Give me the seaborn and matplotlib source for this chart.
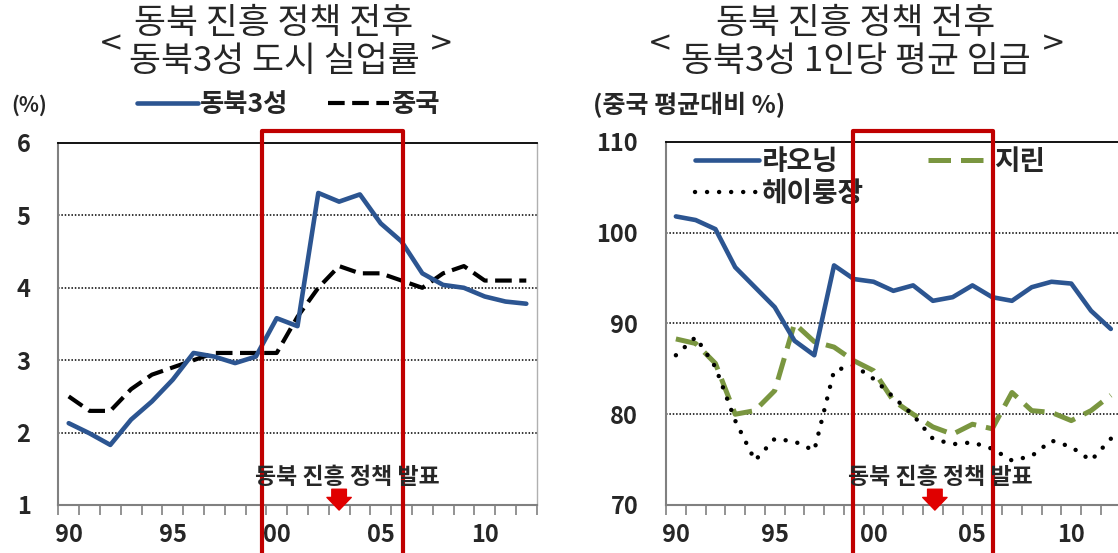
import matplotlib
matplotlib.use('Agg')
import matplotlib.pyplot as plt
import matplotlib.transforms as mtransforms
from matplotlib.patches import Rectangle
import seaborn as sns
import pandas as pd

sns.set_style('white', {'xtick.bottom': True, 'ytick.left': False})
plt.rcParams['font.family'] = ['Noto Sans CJK KR', 'DejaVu Sans']
plt.rcParams['axes.unicode_minus'] = False

# 데이터
years = list(range(1990, 2013))
tick_years = [1990, 1995, 2000, 2005, 2010]
tick_labels = ['90', '95', '00', '05', '10']

# 도시 실업률 (%)
unemp_ne3 = [2.13, 1.99, 1.83, 2.18, 2.43, 2.73, 3.10, 3.05, 2.96, 3.05, 3.58, 3.47,
             5.31, 5.19, 5.29, 4.89, 4.64, 4.20, 4.04, 4.00, 3.88, 3.81, 3.78]
unemp_china = [2.5, 2.3, 2.3, 2.6, 2.8, 2.9, 3.0, 3.1, 3.1, 3.1, 3.1, 3.6,
               4.0, 4.3, 4.2, 4.2, 4.1, 4.0, 4.2, 4.3, 4.1, 4.1, 4.1]

# 1인당 평균 임금 (중국 평균대비 %)
wage_liaoning = [101.8, 101.4, 100.4, 96.2, 94.0, 91.8, 88.1, 86.5, 96.4, 94.9, 94.6, 93.6,
                 94.2, 92.5, 92.9, 94.2, 92.9, 92.5, 94.0, 94.6, 94.4, 91.4, 89.4]
wage_jilin = [88.3, 87.8, 85.6, 80.0, 80.4, 82.6, 90.0, 88.0, 87.4, 85.9, 84.8, 81.5,
              80.0, 78.6, 77.8, 78.9, 78.4, 82.4, 80.4, 80.2, 79.3, 80.4, 82.1]
wage_heilongjiang = [86.5, 88.5, 85.2, 79.3, 74.9, 77.3, 77.0, 76.0, 84.8, 85.4, 83.9, 81.9,
                     79.9, 77.3, 76.7, 76.9, 76.2, 74.9, 75.4, 77.1, 76.4, 74.9, 77.3]

df1 = pd.DataFrame({'year': years, 'ne3': unemp_ne3, 'china': unemp_china})
df2 = pd.DataFrame({'year': years, 'ln': wage_liaoning, 'jl': wage_jilin, 'hlj': wage_heilongjiang})

BLUE = '#2C5591'
GREEN = '#7A9640'
RED = '#C00000'
ARROW_RED = '#E00000'

W, H = 1118, 553
fig = plt.figure(figsize=(W / 100, H / 100), dpi=100)

def px_ax(x0, x1, ytop, ybot):
    return fig.add_axes([x0 / W, (H - ybot) / H, (x1 - x0) / W, (ybot - ytop) / H])

ax1 = px_ax(58.3, 536.7, 143, 505)
ax2 = px_ax(666, 1120.7, 142, 505)

# 왼쪽: 실업률
sns.lineplot(data=df1, x='year', y='china', ax=ax1, color='black', lw=3,
             linestyle=(0, (4.0, 1.8)), label='중국', zorder=3)
sns.lineplot(data=df1, x='year', y='ne3', ax=ax1, color=BLUE, lw=3.3,
             solid_capstyle='round', label='동북3성', zorder=4)

# 오른쪽: 임금
sns.lineplot(data=df2, x='year', y='ln', ax=ax2, color=BLUE, lw=3.3,
             solid_capstyle='round', label='랴오닝', zorder=4)
sns.lineplot(data=df2, x='year', y='jl', ax=ax2, color=GREEN, lw=3.6,
             linestyle=(0, (4.5, 2.0)), label='지린', zorder=3)
sns.lineplot(data=df2, x='year', y='hlj', ax=ax2, color='black', lw=3.2,
             linestyle=(0, (0.01, 2.7)), dash_capstyle='round', label='헤이룽장', zorder=3)

def style_axis(ax, ylim, yticks, grid_vals, show_right):
    ax.set_xlim(1989.5, 2012.5)
    ax.set_ylim(*ylim)
    ax.set_xlabel('')
    ax.set_ylabel('')
    ax.set_yticks(yticks)
    ax.set_yticklabels([str(v) for v in yticks], fontsize=17, fontweight='bold')
    # 눈금선은 연도 경계(major), 라벨은 연도 중앙(minor)
    ax.set_xticks([y - 0.5 for y in years] + [2012.5])
    ax.set_xticklabels([])
    ax.set_xticks(tick_years, minor=True)
    ax.set_xticklabels(tick_labels, minor=True, fontsize=17, fontweight='bold')
    ax.tick_params(axis='x', which='major', bottom=True, length=7, width=1.2,
                   color='#808080', direction='out')
    ax.tick_params(axis='x', which='minor', bottom=True, length=0, pad=13)
    ax.tick_params(axis='y', length=0, pad=20)
    for v in grid_vals:
        ax.axhline(v, color='black', lw=1.1, linestyle=(0, (1, 1.2)), zorder=1)
    ax.spines['top'].set_color('black')
    ax.spines['top'].set_linewidth(1.3)
    ax.spines['left'].set_color('#808080')
    ax.spines['left'].set_linewidth(1.5)
    ax.spines['bottom'].set_color('#808080')
    ax.spines['bottom'].set_linewidth(1.5)
    ax.spines['right'].set_color('#b0b0b0')
    ax.spines['right'].set_linewidth(1.0)
    ax.spines['right'].set_visible(show_right)
    ax.patch.set_alpha(0)

style_axis(ax1, (1, 6), [1, 2, 3, 4, 5, 6], [2, 3, 4, 5], True)
style_axis(ax2, (70, 110), [70, 80, 90, 100, 110], [80, 90, 100], False)

# 범례
h1, l1 = ax1.get_legend_handles_labels()
order = [l1.index('동북3성'), l1.index('중국')]
ax1.legend([h1[i] for i in order], [l1[i] for i in order], loc='center left',
           bbox_to_anchor=(137 / W, 1 - 105 / H), bbox_transform=fig.transFigure,
           ncol=2, frameon=False, handlelength=2.3, handletextpad=0.1,
           columnspacing=1.5, borderpad=0, borderaxespad=0,
           prop={'size': 19, 'weight': 'bold'})

h2, l2 = ax2.get_legend_handles_labels()
order = [l2.index('랴오닝'), l2.index('헤이룽장'), l2.index('지린')]
ax2.legend([h2[i] for i in order], [l2[i] for i in order], loc='upper left',
           bbox_to_anchor=(695 / W, 1 - 148 / H), bbox_transform=fig.transFigure,
           ncol=2, frameon=False, handlelength=2.3, handletextpad=0.1,
           columnspacing=2.3, labelspacing=0.15, borderpad=0, borderaxespad=0,
           prop={'size': 20, 'weight': 'bold'})

# 단위 표시
fig.text(29 / W, 1 - 105 / H, '(%)', ha='center', va='center', fontsize=15, fontweight='bold')
fig.text(593 / W, 1 - 105 / H, '(중국 평균대비 %)', ha='left', va='center', fontsize=18, fontweight='bold')

# 정책 발표 구간 표시
for ax, x0, x1, arrow_x in [(ax1, 1999.28, 2006.07, 2003.0), (ax2, 1998.94, 2006.04, 2003.1)]:
    trans = mtransforms.blended_transform_factory(ax.transData, fig.transFigure)
    ax.add_patch(Rectangle((x0, -0.1), x1 - x0, 1.1 - 131 / H, transform=trans,
                           fill=False, edgecolor=RED, lw=3, joinstyle='round',
                           clip_on=False, zorder=10))
    ax.text(2003.4, 0.077, '동북 진흥 정책 발표', transform=ax.get_xaxis_transform(),
            ha='center', va='center', fontsize=16.5, fontweight='bold', zorder=11)
    ax.annotate('', xy=(arrow_x, -0.014), xycoords=('data', 'axes fraction'),
                xytext=(0, 15), textcoords='offset points',
                arrowprops=dict(arrowstyle='simple,head_length=0.65,head_width=1.25,tail_width=0.75',
                                color=ARROW_RED, mutation_scale=14, shrinkA=0, shrinkB=0),
                annotation_clip=False, zorder=11)

# 제목
for cx, lines, bl, br in [(274, ['동북 진흥 정책 전후', '동북3성 도시 실업률'], 111, 441),
                          (856, ['동북 진흥 정책 전후', '동북3성 1인당 평균 임금'], 660, 1053)]:
    fig.text(cx / W, 1 - 23 / H, lines[0], ha='center', va='center', fontsize=25, fontweight='medium')
    fig.text(cx / W, 1 - 62 / H, lines[1], ha='center', va='center', fontsize=25, fontweight='medium')
    fig.text(bl / W, 1 - 43 / H, '<', ha='center', va='center', fontsize=21, family='DejaVu Sans')
    fig.text(br / W, 1 - 43 / H, '>', ha='center', va='center', fontsize=21, family='DejaVu Sans')

fig.savefig('out.png', dpi=100)
plt.close()
